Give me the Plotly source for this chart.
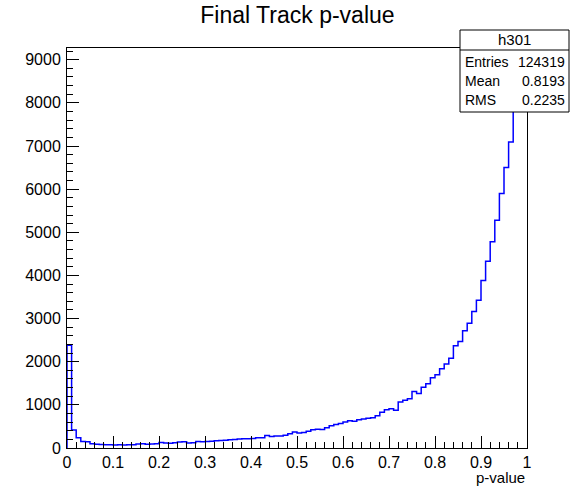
import numpy as np
import plotly.graph_objects as go

# ---- data ----
bin_low = 0.0
bin_high = 1.0
counts = [
    2380, 420, 240, 150, 145, 100, 85, 80, 75, 78,
    72, 76, 70, 78, 74, 95, 100, 85, 90, 100,
    130, 115, 110, 120, 140, 145, 115, 120, 150, 145,
    150, 155, 170, 175, 180, 190, 195, 210, 215, 215,
    220, 237, 240, 290, 268, 276, 280, 295, 330, 368,
    345, 360, 390, 424, 435, 430, 470, 515, 545, 570,
    600, 630, 620, 657, 675, 690, 703, 750, 830, 885,
    910, 875, 1068, 1107, 1140, 1310, 1265, 1410, 1490, 1630,
    1700, 1838, 1946, 2079, 2370, 2466, 2720, 2890, 3166, 3422,
    3881, 4331, 4783, 5280, 5900, 6500, 7090, 7950, 8500, 8830,
]
title = "Final Track p-value"
x_title = "p-value"
stats_name = "h301"
stats_labels = ["Entries", "Mean", "RMS"]
stats_values = ["124319", "0.8193", "0.2235"]

# ---- build step outline ----
nb = len(counts)
edges = np.linspace(bin_low, bin_high, nb + 1)
xs = [edges[0]] + list(edges)
ys = [0] + list(counts) + [counts[-1]]

FONT = "Liberation Sans, Helvetica, Arial, sans-serif"
W, H = 572, 488
ML, MR, MT, MB = 67, 45, 48, 40
pw, ph = W - ML - MR, H - MT - MB

def px_x(p):
    return (p - ML) / pw

def px_y(p):
    return (H - MB - p) / ph

fig = go.Figure()
fig.add_trace(go.Scatter(
    x=xs, y=ys, mode="lines", line=dict(color="#0000ff", width=1.5, shape="hv"),
    hoverinfo="skip", showlegend=False,
))

ymax = max(counts) * 1.05

axis_common = dict(
    showline=True, linecolor="black", linewidth=1, mirror=True,
    ticks="inside", ticklen=12, tickwidth=1, tickcolor="black",
    showgrid=False, zeroline=False,
    tickfont=dict(family=FONT, size=16, color="black"),
)

fig.update_xaxes(range=[bin_low, bin_high], dtick=0.1, tick0=0,
                 minor=dict(dtick=0.02, ticklen=6, ticks="inside", tickcolor="black", tickwidth=1),
                 **axis_common)
fig.update_yaxes(range=[0, ymax], dtick=1000, tick0=0, tickformat="d",
                 minor=dict(dtick=200, ticklen=6, ticks="inside", tickcolor="black", tickwidth=1),
                 ticklabelstandoff=2,
                 **axis_common)

# stats box
bx0, bx1 = px_x(460), px_x(569)
by0, by1 = px_y(112), px_y(30)
bsep = px_y(50)
shapes = [
    dict(type="rect", xref="paper", yref="paper", x0=bx0, x1=bx1, y0=by0, y1=by1,
         line=dict(color="black", width=1), fillcolor="white", layer="above"),
    dict(type="line", xref="paper", yref="paper", x0=bx0, x1=bx1, y0=bsep, y1=bsep,
         line=dict(color="black", width=1), layer="above"),
]
annotations = [
    dict(text=stats_name, x=(bx0 + bx1) / 2, y=px_y(40), xref="paper", yref="paper",
         xanchor="center", yanchor="middle", showarrow=False,
         font=dict(family=FONT, size=15, color="black")),
    dict(text=x_title, x=1.0, y=px_y(477), xref="paper", yref="paper",
         xanchor="right", yanchor="middle", showarrow=False,
         font=dict(family=FONT, size=15, color="black")),
]
row_y = [62, 81, 100]
for lab, val, ry in zip(stats_labels, stats_values, row_y):
    annotations.append(dict(text=lab, x=px_x(463), y=px_y(ry), xref="paper", yref="paper",
                            xanchor="left", yanchor="middle", showarrow=False,
                            font=dict(family=FONT, size=14, color="black")))
    annotations.append(dict(text=val, x=px_x(567), y=px_y(ry), xref="paper", yref="paper",
                            xanchor="right", yanchor="middle", showarrow=False,
                            font=dict(family=FONT, size=14, color="black")))

fig.update_layout(
    width=W, height=H,
    margin=dict(l=ML, r=MR, t=MT, b=MB, pad=0),
    paper_bgcolor="white", plot_bgcolor="white",
    title=dict(text=title, x=0.52, xanchor="center", y=1 - 15 / H, yanchor="middle",
               font=dict(family=FONT, size=23, color="black")),
    shapes=shapes, annotations=annotations,
    showlegend=False,
)

fig.write_html(
    "out.html",
    config={"displayModeBar": False, "staticPlot": True},
    post_script="document.body.style.margin='0px';document.body.style.padding='0px';",
)
